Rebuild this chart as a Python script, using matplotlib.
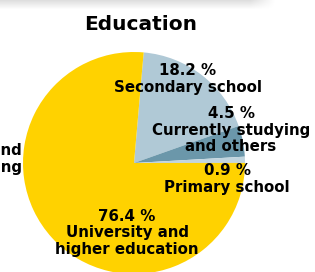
import matplotlib.pyplot as plt
import numpy as np

# Education shares, clockwise from the top
categories = ['Secondary school', 'Currently studying\nand others', 'Primary school',
              'University and\nhigher education']
shares = [18.2, 4.5, 0.9, 76.4]
colors = ['#b0c9d6', '#6b97aa', '#c2d5de', '#ffd200']

# label anchor points in pixels (x, y from top)
label_pos = [(188, 79), (231, 130), (227, 179), (127, 233)]

W, H = 315, 272
fig = plt.figure(figsize=(W / 100, H / 100), dpi=100)
ax = fig.add_axes([0, 0, 1, 1])

# faint card shadow along the top
grad = np.linspace(0.13, 0, 10)[:, None] * np.ones((1, 300))
fade = np.clip((275 - np.arange(300)) / 25, 0, 1)
ax.imshow(np.dstack([np.zeros_like(grad)] * 3 + [grad * fade]),
          extent=(0, 300, H - 10, H), aspect='auto', zorder=0)

ax.pie(shares, colors=colors, startangle=85, counterclock=False,
       center=(134, H - 163), radius=111, frame=True,
       wedgeprops=dict(linewidth=0))
ax.set_xlim(0, W)
ax.set_ylim(0, H)
ax.set_aspect('equal')
ax.axis('off')

font = 'DejaVu Sans'
ax.text(141, H - 24, 'Education', ha='center', va='center', fontsize=14.5,
        fontweight='bold', family=font)

for cat, val, (x, y) in zip(categories, shares, label_pos):
    ax.text(x, H - y, f'{val} %\n{cat}', ha='center', va='center',
            fontsize=10.8, fontweight='bold', family=font, linespacing=1.1)

# labels of the neighbouring chart, cut off at the left edge
ax.text(22, H - 159, 'Vocational and\nfurther training', ha='right', va='center',
        fontsize=10.8, fontweight='bold', family=font, linespacing=1.1)

fig.savefig('out.png', dpi=100)
